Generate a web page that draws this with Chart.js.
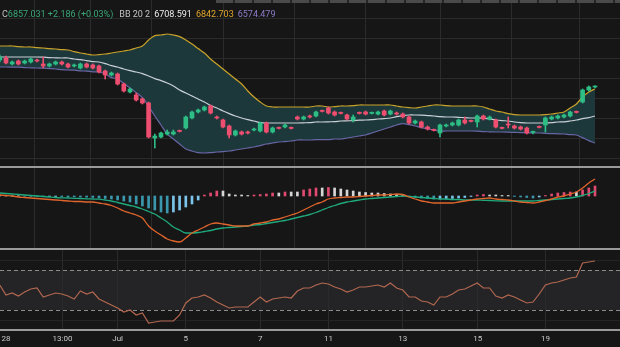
<!DOCTYPE html>
<html>
<head>
<meta charset="utf-8">
<script src="https://cdn.jsdelivr.net/npm/chart.js@4.4.1/dist/chart.umd.min.js"></script>
<style>
  html, body { margin: 0; padding: 0; background: #161616; }
  #wrap { position: relative; width: 620px; height: 347px; overflow: hidden; font-family: Roboto, 'Noto Sans', sans-serif; }
  canvas { position: absolute; left: 0; }
  .rule { position: absolute; left: 0; width: 620px; height: 2px; background: #9a9a9a; }
  #legend { position: absolute; left: 2px; top: 9px; font-size: 9px; line-height: 11px; white-space: pre; color: #c4c4c4; z-index: 2; }
  #legend .g { color: #3aa878; }
  #legend .w { color: #ececec; margin-left: 4px; }
  #legend .y { color: #e0a52c; margin-left: 4px; }
  #legend .p { color: #8d7cc9; margin-left: 4px; }
  #legend .bb { margin-left: 6px; }
  #tools { position: absolute; top: 0; left: 216px; width: 404px; height: 3px;
           background: repeating-linear-gradient(90deg, #4a4a4a 0 17px, #262626 17px 19px); }
</style>
</head>
<body>
<div id="wrap">
  <canvas id="main" width="620" height="166" style="top:0"></canvas>
  <div class="rule" style="top:166px"></div>
  <canvas id="macd" width="620" height="80" style="top:168px"></canvas>
  <div class="rule" style="top:248px"></div>
  <canvas id="rsi" width="620" height="97" style="top:250px"></canvas>
  <div id="tools"></div>
  <div id="legend">C<span class="g">6857.031 +2.186 (+0.03%)</span><span class="bb">BB 20 2</span><span class="w">6708.591</span><span class="y">6842.703</span><span class="p">6574.479</span></div>
</div>
<script>
// candles, first entry is the one cut by the left edge (index -1)
const open = [
  6989, 6999, 6969, 6984, 6974, 6979, 6989, 6969, 6959, 6969,
  6979, 6969, 6959, 6949, 6969, 6964, 6959, 6934, 6914, 6919,
  6869, 6829, 6814, 6794, 6774, 6599, 6604, 6619, 6619, 6634,
  6649, 6699, 6729, 6739, 6759, 6704, 6689, 6659, 6614, 6629,
  6629, 6639, 6634, 6674, 6629, 6649, 6654, 6649, 6704, 6694,
  6709, 6709, 6734, 6749, 6729, 6724, 6714, 6689, 6724, 6729,
  6722, 6719, 6734, 6719, 6724, 6719, 6704, 6674, 6679, 6654,
  6639, 6624, 6659, 6664, 6664, 6689, 6684, 6679, 6709, 6694,
  6689, 6649, 6669, 6659, 6654, 6649, 6627, 6654, 6664, 6694,
  6699, 6704, 6709, 6729, 6779, 6839, 6854];
const high = [
  7014, 7009, 6984, 6989, 6989, 6999, 6994, 7004, 6974, 6984,
  6984, 6974, 6969, 6974, 6974, 6969, 6964, 6939, 6929, 6924,
  6874, 6849, 6824, 6799, 6779, 6619, 6629, 6639, 6639, 6639,
  6709, 6734, 6744, 6759, 6764, 6709, 6694, 6664, 6639, 6634,
  6634, 6649, 6679, 6679, 6654, 6654, 6669, 6654, 6709, 6709,
  6714, 6734, 6739, 6754, 6734, 6729, 6719, 6714, 6729, 6734,
  6729, 6734, 6739, 6739, 6729, 6724, 6709, 6689, 6684, 6659,
  6644, 6669, 6669, 6679, 6694, 6704, 6689, 6714, 6714, 6709,
  6694, 6654, 6704, 6664, 6659, 6654, 6634, 6659, 6704, 6709,
  6714, 6719, 6734, 6734, 6844, 6859, 6860];
const low = [
  6979, 6969, 6964, 6964, 6969, 6974, 6979, 6949, 6954, 6964,
  6964, 6949, 6954, 6944, 6949, 6944, 6924, 6894, 6909, 6864,
  6829, 6824, 6784, 6769, 6599, 6549, 6599, 6614, 6614, 6629,
  6644, 6694, 6724, 6734, 6719, 6694, 6649, 6599, 6609, 6614,
  6619, 6634, 6629, 6624, 6624, 6644, 6649, 6644, 6689, 6689,
  6699, 6704, 6729, 6719, 6709, 6719, 6689, 6679, 6719, 6714,
  6719, 6714, 6709, 6714, 6714, 6699, 6669, 6669, 6649, 6639,
  6634, 6604, 6654, 6659, 6659, 6669, 6679, 6654, 6689, 6689,
  6649, 6644, 6649, 6644, 6639, 6619, 6619, 6649, 6629, 6689,
  6694, 6699, 6704, 6724, 6774, 6834, 6849];
const close = [
  7004, 6974, 6979, 6969, 6984, 6994, 6984, 6959, 6969, 6979,
  6969, 6954, 6964, 6969, 6954, 6949, 6929, 6914, 6924, 6869,
  6834, 6844, 6789, 6774, 6604, 6609, 6624, 6629, 6629, 6632,
  6704, 6729, 6739, 6754, 6724, 6699, 6654, 6614, 6634, 6619,
  6624, 6644, 6674, 6629, 6649, 6647, 6664, 6647, 6694, 6704,
  6704, 6729, 6732, 6724, 6714, 6722, 6694, 6704, 6722, 6719,
  6724, 6729, 6714, 6734, 6719, 6704, 6674, 6684, 6654, 6644,
  6637, 6664, 6664, 6674, 6689, 6674, 6682, 6709, 6694, 6704,
  6654, 6647, 6664, 6649, 6644, 6624, 6629, 6652, 6699, 6704,
  6709, 6714, 6729, 6727, 6839, 6854, 6857];

// Bollinger bands (20, 2)
const bbUpper = [
  7059, 7059, 7059, 7056, 7054, 7054, 7051, 7049, 7046, 7044,
  7041, 7039, 7031, 7024, 7019, 7014, 7016, 7019, 7024, 7029,
  7034, 7039, 7049, 7059, 7089, 7111, 7114, 7119, 7114, 7106,
  7089, 7069, 7046, 7024, 6994, 6969, 6944, 6919, 6894, 6869,
  6834, 6804, 6779, 6759, 6754, 6754, 6754, 6754, 6754, 6754,
  6754, 6759, 6759, 6754, 6756, 6759, 6759, 6761, 6764, 6764,
  6764, 6764, 6764, 6764, 6759, 6754, 6751, 6749, 6754, 6759,
  6764, 6764, 6761, 6759, 6759, 6759, 6759, 6759, 6754, 6744,
  6734, 6729, 6721, 6716, 6714, 6714, 6714, 6714, 6716, 6719,
  6724, 6729, 6749, 6769, 6804, 6829, 6844];
const bbMid = [
  7004, 7004, 7004, 7004, 7004, 7004, 7004, 7003, 7001, 7000,
  6999, 6999, 6994, 6991, 6986, 6981, 6979, 6971, 6961, 6954,
  6944, 6936, 6929, 6921, 6909, 6896, 6886, 6874, 6859, 6839,
  6824, 6809, 6794, 6779, 6761, 6749, 6734, 6721, 6709, 6699,
  6691, 6684, 6676, 6674, 6674, 6674, 6674, 6674, 6674, 6675,
  6676, 6679, 6679, 6680, 6681, 6684, 6685, 6686, 6688, 6689,
  6691, 6694, 6696, 6699, 6706, 6711, 6714, 6714, 6713, 6711,
  6709, 6706, 6704, 6704, 6702, 6701, 6699, 6699, 6698, 6694,
  6689, 6686, 6684, 6679, 6676, 6674, 6674, 6674, 6674, 6676,
  6679, 6680, 6684, 6689, 6696, 6701, 6709];
const bbLower = [
  6954, 6954, 6953, 6953, 6951, 6950, 6949, 6948, 6946, 6944,
  6941, 6939, 6938, 6935, 6933, 6930, 6929, 6919, 6901, 6894,
  6871, 6849, 6826, 6801, 6759, 6709, 6664, 6619, 6594, 6569,
  6544, 6534, 6526, 6524, 6526, 6529, 6531, 6534, 6539, 6544,
  6549, 6554, 6561, 6569, 6574, 6579, 6581, 6584, 6589, 6589,
  6589, 6591, 6591, 6591, 6594, 6594, 6599, 6604, 6609, 6614,
  6624, 6634, 6644, 6654, 6664, 6671, 6666, 6659, 6651, 6644,
  6639, 6634, 6634, 6634, 6634, 6634, 6634, 6633, 6631, 6630,
  6629, 6629, 6628, 6627, 6626, 6625, 6624, 6624, 6622, 6621,
  6620, 6619, 6616, 6614, 6601, 6586, 6574];

// MACD
const macdLine = [
  1, 0.5, 0, -1, -1.5, -2, -2.5, -3, -3.5, -4,
  -4.5, -5, -5.5, -5.5, -6, -6, -7, -8, -9.5, -12,
  -15, -17, -19, -22, -30, -35, -39, -43, -45, -46,
  -42, -37, -34, -31, -28, -27, -28, -29, -30, -30,
  -30, -28, -27, -26, -24, -23, -21, -19, -17, -14,
  -11, -8, -6, -3, -2, -1.5, -1, -1, -0.5, 0,
  0.5, 1, 1, 1.5, 2, 1.5, -1, -3, -5, -6,
  -7, -7, -7, -7, -6, -5, -4, -3, -2.5, -2,
  -3, -3.5, -4, -5, -6, -6.5, -7, -6, -4.5, -3,
  -1, 0, 2, 4, 8, 13, 17];
const signalLine = [
  3, 2.5, 2, 1.5, 1, 0.5, 0, -0.5, -1, -1.5,
  -1.8, -2, -2.3, -2.5, -2.8, -3, -3.2, -4, -5, -6.5,
  -8, -9.5, -11, -13, -15.5, -18, -22, -26, -31, -34,
  -37, -37, -36.5, -35.5, -34.5, -33, -32, -31.5, -31, -30.5,
  -30, -29, -28.5, -27.5, -26.5, -25.5, -24.5, -23, -21.5, -20,
  -18.5, -16.5, -14, -11.5, -9.5, -7.5, -6, -5, -4, -3,
  -2.5, -2, -1.5, -1, -0.5, 0, -0.5, -1, -1.5, -2,
  -2.5, -3, -3, -3.5, -3.5, -4, -4, -4, -4.3, -4.5,
  -4.8, -5, -5, -5, -5, -5, -5, -4.5, -4, -3.5,
  -3, -2.5, -2, -1, 0.5, 2.5, 5];
const histogram = [
  0.3, 0.3, 0.2, 0.2, -0.2, -0.3, -0.4, -0.5, -0.5, -0.5,
  -0.6, -0.7, -0.8, -1, -1.2, -1.5, -2, -2.5, -3, -4,
  -5, -6, -8, -10, -12, -14, -16, -17, -16, -14,
  -11, -8, -4, 1, 3, 5, 5, 2, 1, 1,
  0.5, 1, 1.5, 2, 3, 3, 4, 4, 4, 6,
  7, 8, 8, 8.5, 8, 7, 6, 5, 4, 3.5,
  3, 3, 2.5, 2, 1.5, 0.5, -0.5, -1.5, -2, -2.5,
  -3, -3, -3, -2.5, -2, -1.5, -0.5, 1, 1.5, 1,
  1, 0.5, 0.5, -0.5, -1, -1.5, -2, -1, 0.5, 2,
  3, 3.5, 4, 4, 6, 8, 10];

// RSI
const rsi = [
  55, 45, 47, 44, 48, 51, 52, 43, 45, 47,
  46, 44, 41, 49, 46, 48, 41, 38, 35, 32,
  28, 30, 25, 27, 17, 18, 19, 19, 19, 25,
  37, 42, 43, 45, 42, 38, 35, 32, 33, 33,
  33, 38, 43, 38, 41, 42, 43, 42, 49, 52,
  52, 55, 57, 56, 53, 51, 48, 50, 53, 53,
  54, 55, 53, 57, 52, 50, 43, 43, 39, 38,
  35, 43, 43, 46, 50, 51, 54, 57, 52, 52,
  44, 42, 45, 43, 40, 37, 38, 46, 55, 57,
  58, 60, 62, 63, 77, 78, 79];
const rsiLevels = [70, 30];
const rsiGrid = [20, 40, 60, 80];
const priceGrid = [6500, 6600, 6700, 6800, 6900, 7000, 7100, 7200];

// time axis
const tickPos = [0, 9.1, 18, 29, 41, 52, 64, 76.1, 87];
const tickLabels = ['28', '13:00', 'Jul', '5', '7', '11', '13', '15', '19'];

const X_MIN = -6 / 6.2;
const X_MAX = X_MIN + 620 / 6.2;
const GRID = '#2b2b2b';
const UP = '#2dbd85', DOWN = '#ee4f70';

const xs = open.map((_, k) => k - 1);
const pts = arr => arr.map((v, k) => ({ x: xs[k], y: v }));
const candleColors = open.map((o, k) => close[k] >= o ? UP : DOWN);
const histColors = histogram.map((v, k) => {
  const prev = k > 0 ? histogram[k - 1] : v;
  if (v >= 0) return v > prev ? '#e04a70' : '#d6d6d6';
  return v < prev ? '#3b97ad' : '#7cc3ea';
});

function xAxis(showLabels) {
  return {
    type: 'linear', min: X_MIN, max: X_MAX, offset: false,
    afterBuildTicks: s => { s.ticks = tickPos.map(v => ({ value: v })); },
    // keep all three panels on the same x pixels: no room reserved for edge labels
    afterFit: s => { s.height = showLabels ? 17 : 0; s.paddingLeft = 0; s.paddingRight = 0; },
    grid: { color: GRID, lineWidth: c => c.index === 0 ? 0 : 1, drawTicks: false },
    border: showLabels ? { display: true, color: '#9a9a9a', width: 2 } : { display: false },
    ticks: {
      display: showLabels, autoSkip: false, maxRotation: 0, padding: 4,
      color: '#c8c8c8', font: { size: 8, family: 'Roboto' },
      callback: (v, i) => tickLabels[i]
    }
  };
}

function yAxis(min, max) {
  return {
    min, max, display: false,
    afterFit: s => { s.width = 0; }
  };
}

// horizontal guide lines drawn through the y scale
function hLines(id, values, color, dash) {
  return {
    id,
    beforeDatasetsDraw(chart) {
      const { ctx, chartArea: a, scales: { y } } = chart;
      ctx.save();
      ctx.strokeStyle = color;
      ctx.lineWidth = 1;
      ctx.setLineDash(dash);
      values.forEach(v => {
        const py = Math.round(y.getPixelForValue(v)) + 0.5;
        ctx.beginPath();
        ctx.moveTo(a.left, py);
        ctx.lineTo(a.right, py);
        ctx.stroke();
      });
      ctx.restore();
    }
  };
}

const common = {
  responsive: false, animation: false, events: [],
  layout: { padding: 0 },
  plugins: { legend: { display: false }, tooltip: { enabled: false } }
};

new Chart(document.getElementById('main'), {
  type: 'bar',
  data: {
    datasets: [
      { type: 'line', data: pts(bbUpper), borderColor: '#c9a22a', borderWidth: 1.2, pointRadius: 0, tension: 0.3,
        fill: { target: 2 }, backgroundColor: '#1d383b', order: 4 },
      { type: 'line', data: pts(bbMid), borderColor: '#c9d0d6', borderWidth: 1.2, pointRadius: 0, tension: 0.3, fill: false, order: 3 },
      { type: 'line', data: pts(bbLower), borderColor: '#6966a6', borderWidth: 1.2, pointRadius: 0, tension: 0.3, fill: false, order: 3 },
      { data: xs.map((x, k) => ({ x, y: [low[k], high[k]] })), backgroundColor: candleColors,
        barThickness: 1, grouped: false, order: 1 },
      { data: xs.map((x, k) => ({ x, y: [open[k], close[k]] })), backgroundColor: candleColors,
        barThickness: 4, minBarLength: 1, grouped: false, order: 0 }
    ]
  },
  options: { ...common, scales: { x: xAxis(false), y: yAxis(6459, 7289) } },
  plugins: [hLines('priceGrid', priceGrid, GRID, [])]
});

new Chart(document.getElementById('macd'), {
  type: 'bar',
  data: {
    datasets: [
      { type: 'line', data: pts(macdLine), borderColor: '#e0652c', borderWidth: 1.3, pointRadius: 0,
        tension: 0.4, cubicInterpolationMode: 'monotone', order: 1 },
      { type: 'line', data: pts(signalLine), borderColor: '#1fa97c', borderWidth: 1.3, pointRadius: 0,
        tension: 0.4, cubicInterpolationMode: 'monotone', order: 2 },
      { data: pts(histogram), backgroundColor: histColors, barThickness: 2, grouped: false, order: 3 }
    ]
  },
  options: { ...common, scales: { x: xAxis(false), y: yAxis(-52, 28) } }
});

const rsiBand = {
  id: 'rsiBand',
  beforeDraw(chart) {
    const { ctx, chartArea: a, scales: { y } } = chart;
    const top = y.getPixelForValue(rsiLevels[0]);
    const bot = y.getPixelForValue(rsiLevels[1]);
    ctx.save();
    ctx.fillStyle = '#242427';
    ctx.fillRect(a.left, top, a.width, bot - top);
    ctx.restore();
  }
};

new Chart(document.getElementById('rsi'), {
  type: 'line',
  data: {
    datasets: [
      { data: pts(rsi), borderColor: '#b2674f', borderWidth: 1.2, pointRadius: 0, tension: 0, fill: false }
    ]
  },
  options: { ...common, scales: { x: xAxis(true), y: yAxis(10, 90) } },
  plugins: [rsiBand, hLines('rsiGrid', rsiGrid, '#242424', []), hLines('rsiLevels', rsiLevels, '#8c8c8c', [4, 3])]
});
</script>
</body>
</html>
